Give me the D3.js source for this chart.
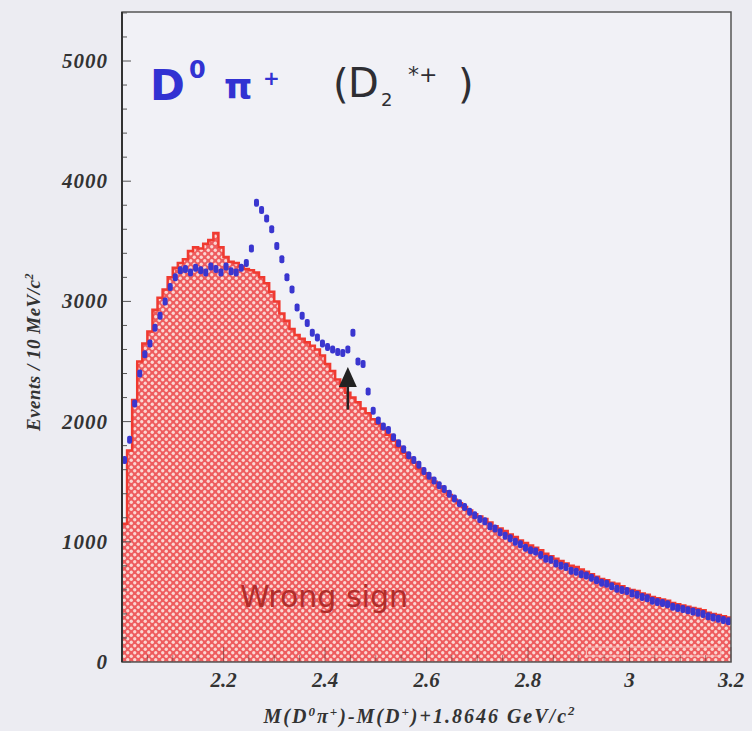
<!DOCTYPE html>
<html>
<head>
<meta charset="utf-8">
<script src="https://cdn.jsdelivr.net/npm/d3@7"></script>
<style>
  body { margin: 0; background: #ececf2; }
  svg { display: block; }
</style>
</head>
<body>
<svg id="chart" width="752" height="731"></svg>
<script>
// 10 MeV bins from 2.00 to 3.20 GeV/c^2
const binStart = 2.0;
const binWidth = 0.01;

// wrong-sign histogram (red, hatched)
const wrongSign = [
  1150, 1760, 2180, 2500, 2650, 2750, 2930, 3030, 3100, 3200,
  3280, 3320, 3350, 3420, 3450, 3440, 3480, 3510, 3570, 3450,
  3370, 3330, 3320, 3290, 3270, 3260, 3240, 3200, 3150, 3080,
  3000, 2900, 2840, 2770, 2720, 2690, 2660, 2630, 2600, 2550,
  2480, 2420, 2350, 2290, 2240, 2200, 2160, 2110, 2070, 2020,
  1980, 1940, 1890, 1840, 1790, 1740, 1700, 1660, 1610, 1570,
  1530, 1500, 1460, 1420, 1390, 1350, 1320, 1290, 1260, 1230,
  1210, 1190, 1160, 1130, 1110, 1090, 1060, 1040, 1010, 990,
  970, 950, 930, 900, 880, 860, 840, 820, 800, 790,
  770, 750, 730, 710, 690, 680, 660, 650, 630, 610,
  600, 590, 570, 560, 540, 530, 520, 510, 490, 480,
  470, 460, 450, 440, 430, 410, 400, 390, 380, 370
];

// D0 pi+ (blue points), one per bin centre
const rightSign = [
  1680, 1850, 2150, 2400, 2560, 2650, 2780, 2880, 3000, 3120,
  3200, 3260, 3270, 3240, 3280, 3260, 3240, 3290, 3270, 3240,
  3290, 3250, 3240, 3280, 3320, 3440, 3820, 3760, 3690, 3600,
  3460, 3350, 3200, 3100, 2950, 2880, 2820, 2740, 2700, 2650,
  2620, 2600, 2580, 2570, 2600, 2740, 2500, 2480, 2250, 2090,
  2010, 1960, 1930, 1870, 1820, 1770, 1720, 1680, 1640, 1590,
  1550, 1510, 1470, 1440, 1400, 1360, 1320, 1290, 1250, 1220,
  1190, 1170, 1130, 1110, 1080, 1050, 1030, 1000, 980, 950,
  930, 920, 890, 860, 850, 820, 800, 790, 760, 750,
  730, 720, 700, 680, 660, 650, 630, 610, 600, 590,
  570, 560, 540, 530, 510, 500, 490, 480, 460, 450,
  440, 430, 420, 410, 400, 380, 370, 360, 350, 340
];

const xTicks = [2.2, 2.4, 2.6, 2.8, 3, 3.2];
const xTickLabels = ['2.2', '2.4', '2.6', '2.8', '3', '3.2'];
const yTicks = [0, 1000, 2000, 3000, 4000, 5000];

// arrow marking the D2*+ position
const arrowMass = 2.445;
const arrowFrom = 2100;
const arrowTo = 2455;

(function draw() {
  const svg = d3.select('#chart');
  const W = 752, H = 731;
  const pl = 122, pr = 731, pt = 12, pb = 662;

  const x = d3.scaleLinear().domain([2.0, 3.2]).range([pl, pr]);
  const y = d3.scaleLinear().domain([0, 5400]).range([pb, pb - 5400 * 0.1202]);

  svg.append('rect').attr('width', W).attr('height', H).attr('fill', '#ececf2');
  svg.append('rect')
    .attr('x', pl).attr('y', pt)
    .attr('width', pr - pl).attr('height', pb - pt)
    .attr('fill', '#f1f1f6');

  // hatch pattern for the wrong-sign histogram
  const defs = svg.append('defs');
  const pat = defs.append('pattern')
    .attr('id', 'hatch')
    .attr('patternUnits', 'userSpaceOnUse')
    .attr('width', 7).attr('height', 7);
  pat.append('rect').attr('width', 7).attr('height', 7).attr('fill', '#ee5c5e');
  pat.append('circle').attr('cx', 1.75).attr('cy', 1.75).attr('r', 1.65).attr('fill', '#fbd6d2');
  pat.append('circle').attr('cx', 5.25).attr('cy', 5.25).attr('r', 1.65).attr('fill', '#fbd6d2');

  // histogram as steps: each bin low edge, plus the closing edge at 3.2
  const steps = wrongSign.map((v, i) => ({ m: binStart + i * binWidth, v }));
  steps.push({ m: binStart + wrongSign.length * binWidth, v: wrongSign[wrongSign.length - 1] });

  const area = d3.area()
    .x((d) => x(d.m))
    .y0(y(0))
    .y1((d) => y(d.v))
    .curve(d3.curveStepAfter);

  const line = d3.line()
    .x((d) => x(d.m))
    .y((d) => y(d.v))
    .curve(d3.curveStepAfter);

  svg.append('path').datum(steps).attr('d', area).attr('fill', 'url(#hatch)');
  svg.append('path').datum(steps).attr('d', line)
    .attr('fill', 'none')
    .attr('stroke', '#f03a30')
    .attr('stroke-width', 2.5);

  // faint box near the bottom right
  svg.append('rect')
    .attr('x', x(2.915)).attr('y', 647)
    .attr('width', x(3.18) - x(2.915)).attr('height', 9)
    .attr('fill', 'none')
    .attr('stroke', '#f7c4c0')
    .attr('stroke-width', 1);

  // blue data points
  svg.append('g')
    .selectAll('rect')
    .data(rightSign)
    .enter()
    .append('rect')
    .attr('x', (d, i) => x(binStart + (i + 0.5) * binWidth) - 2.5)
    .attr('y', (d) => y(d) - 4)
    .attr('width', 5)
    .attr('height', 8)
    .attr('rx', 2)
    .attr('fill', '#3a36cf');

  // arrow
  const ax = x(arrowMass);
  svg.append('line')
    .attr('x1', ax).attr('x2', ax)
    .attr('y1', y(arrowFrom)).attr('y2', y(arrowTo) + 16)
    .attr('stroke', '#222').attr('stroke-width', 2.5);
  svg.append('path')
    .attr('d', `M${ax},${y(arrowTo)} L${ax - 9},${y(arrowTo) + 20} L${ax + 9},${y(arrowTo) + 20} Z`)
    .attr('fill', '#222');

  // y ticks (major + minor) pointing inward
  const yMinor = d3.range(0, 5401, 200);
  svg.append('g').selectAll('line').data(yMinor).enter().append('line')
    .attr('x1', pl).attr('x2', (d) => pl + (d % 1000 === 0 ? 9 : 5))
    .attr('y1', (d) => y(d)).attr('y2', (d) => y(d))
    .attr('stroke', '#555').attr('stroke-width', 1);

  // x ticks pointing up
  const xMinor = d3.range(2.0, 3.2001, 0.05);
  svg.append('g').selectAll('line').data(xMinor).enter().append('line')
    .attr('x1', (d) => x(d)).attr('x2', (d) => x(d))
    .attr('y1', pb)
    .attr('y2', (d) => pb - (Math.abs(d * 5 - Math.round(d * 5)) < 1e-6 ? 15 : 7))
    .attr('stroke', '#6a3a3a').attr('stroke-width', 1).attr('opacity', 0.6);

  // frame
  svg.append('rect')
    .attr('x', pl).attr('y', pt)
    .attr('width', pr - pl).attr('height', pb - pt)
    .attr('fill', 'none')
    .attr('stroke', '#555')
    .attr('stroke-width', 1.5);
  svg.append('line').attr('x1', pl).attr('x2', pl).attr('y1', pt).attr('y2', pb)
    .attr('stroke', '#333').attr('stroke-width', 2);

  // tick labels
  const tickFont = '"Liberation Serif", "DejaVu Serif", serif';
  svg.append('g').selectAll('text').data(yTicks).enter().append('text')
    .attr('x', 108).attr('y', (d) => y(d) + 7)
    .attr('text-anchor', 'end')
    .attr('font-family', tickFont).attr('font-weight', 'bold').attr('font-style', 'italic')
    .attr('font-size', 21).attr('letter-spacing', 1).attr('fill', '#333')
    .text((d) => d);

  svg.append('g').selectAll('text').data(xTicks).enter().append('text')
    .attr('x', (d) => x(d)).attr('y', 687)
    .attr('text-anchor', 'middle')
    .attr('font-family', tickFont).attr('font-weight', 'bold').attr('font-style', 'italic')
    .attr('font-size', 21).attr('fill', '#333')
    .text((d, i) => xTickLabels[i]);

  // axis titles
  const xt = svg.append('text')
    .attr('x', 420).attr('y', 723)
    .attr('text-anchor', 'middle')
    .attr('font-family', tickFont).attr('font-weight', 'bold').attr('font-style', 'italic')
    .attr('font-size', 20).attr('letter-spacing', 2).attr('fill', '#333');
  xt.append('tspan').text('M(D');
  xt.append('tspan').attr('dy', -7).attr('font-size', 13).text('0');
  xt.append('tspan').attr('dy', 7).text('π');
  xt.append('tspan').attr('dy', -7).attr('font-size', 13).text('+');
  xt.append('tspan').attr('dy', 7).text(')-M(D');
  xt.append('tspan').attr('dy', -7).attr('font-size', 13).text('+');
  xt.append('tspan').attr('dy', 7).text(')+1.8646 GeV/c');
  xt.append('tspan').attr('dy', -8).attr('font-size', 13).text('2');

  const yt = svg.append('text')
    .attr('transform', 'translate(40,352) rotate(-90)')
    .attr('text-anchor', 'middle')
    .attr('font-family', tickFont).attr('font-weight', 'bold').attr('font-style', 'italic')
    .attr('font-size', 19).attr('letter-spacing', 0.5).attr('fill', '#333');
  yt.append('tspan').text('Events / 10 MeV/c');
  yt.append('tspan').attr('dy', -7).attr('font-size', 12).text('2');

  // labels inside the plot
  const hand = '"DejaVu Sans", sans-serif';
  const blue = '#3232d2';
  svg.append('text').attr('x', 150).attr('y', 100).attr('font-family', hand).attr('font-weight', 'bold')
    .attr('font-size', 42).attr('fill', blue).text('D');
  svg.append('text').attr('x', 189).attr('y', 78).attr('font-family', hand).attr('font-weight', 'bold')
    .attr('font-size', 24).attr('fill', blue).text('0');
  svg.append('text').attr('x', 224).attr('y', 99).attr('font-family', hand).attr('font-weight', 'bold')
    .attr('font-size', 36).attr('fill', blue).text('π');
  svg.append('text').attr('x', 263).attr('y', 85).attr('font-family', hand).attr('font-weight', 'bold')
    .attr('font-size', 20).attr('fill', blue).text('+');

  const dark = '#2e2e33';
  svg.append('text').attr('x', 333).attr('y', 98).attr('font-family', hand)
    .attr('font-size', 40).attr('fill', dark).text('(');
  svg.append('text').attr('x', 348).attr('y', 97).attr('font-family', hand)
    .attr('font-size', 40).attr('fill', dark).text('D');
  svg.append('text').attr('x', 381).attr('y', 106).attr('font-family', hand)
    .attr('font-size', 18).attr('fill', dark).text('2');
  svg.append('text').attr('x', 408).attr('y', 82).attr('font-family', hand)
    .attr('font-size', 22).attr('fill', dark).text('*+');
  svg.append('text').attr('x', 458).attr('y', 98).attr('font-family', hand)
    .attr('font-size', 40).attr('fill', dark).text(')');

  svg.append('text').attr('x', 324).attr('y', 607)
    .attr('text-anchor', 'middle')
    .attr('font-family', hand).attr('font-size', 30)
    .attr('fill', '#b02c2a')
    .text('Wrong sign');
})();
</script>
</body>
</html>
